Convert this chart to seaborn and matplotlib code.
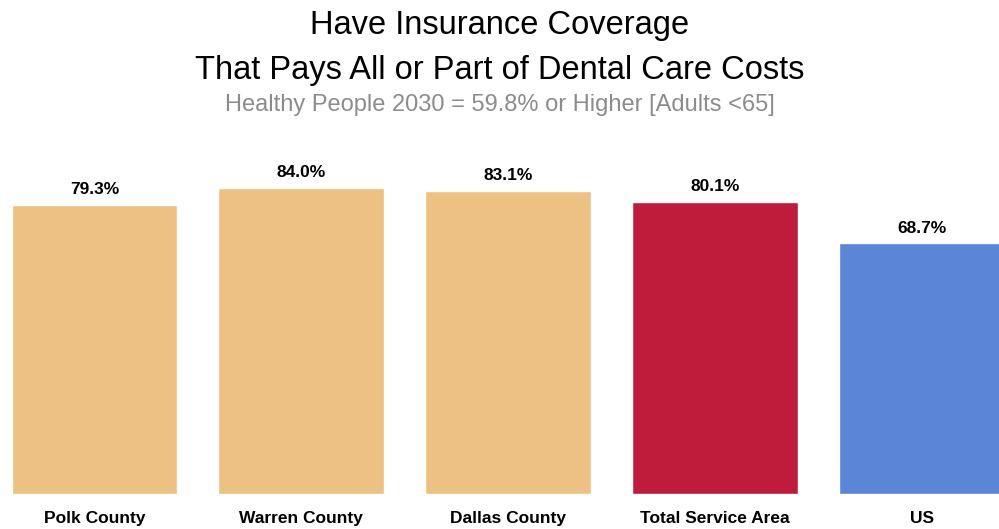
import matplotlib
matplotlib.use("Agg")
import pandas as pd
import matplotlib.pyplot as plt
import seaborn as sns

# data
categories = ["Polk County", "Warren County", "Dallas County", "Total Service Area", "US"]
values = [79.3, 84.0, 83.1, 80.1, 68.7]
bar_colors = ["#EDC183", "#EDC183", "#EDC183", "#BE1C3A", "#5B85D6"]

df = pd.DataFrame({"area": categories, "pct": values})

sns.set_style("white")
plt.rcParams['font.family'] = ['Liberation Sans', 'DejaVu Sans']
narrow = ['Liberation Sans Narrow', 'Liberation Sans', 'DejaVu Sans']

fig = plt.figure(figsize=(9.99, 5.29), dpi=100)
ax = fig.add_axes([-0.009, 0.0662, 1.035, 0.6503])

sns.barplot(data=df, x="area", y="pct", hue="area", palette=bar_colors,
            legend=False, width=0.8, saturation=1, ax=ax)

ax.set_ylim(0, 94.3)
ax.set_xlim(-0.5, 4.5)
ax.set_xlabel("")
ax.set_ylabel("")
ax.set_yticks([])
ax.tick_params(axis="x", length=0, pad=12.5)
for lab in ax.get_xticklabels():
    lab.set_fontfamily(narrow)
    lab.set_fontweight("bold")
    lab.set_fontsize(12.5)
    lab.set_color("black")
sns.despine(ax=ax, left=True, bottom=True)

# value labels
for i, v in enumerate(values):
    ax.annotate(f"{v:.1f}%", (i, v), xytext=(0, 5.5), textcoords="offset points",
                ha="center", va="bottom", fontsize=12.5, fontweight="bold",
                family=narrow, color="black")

# titles
fig.text(0.5, 0.952, "Have Insurance Coverage", ha="center", va="center",
         fontsize=23.5, color="black")
fig.text(0.5, 0.866, "That Pays All or Part of Dental Care Costs", ha="center",
         va="center", fontsize=23.5, color="black")
fig.text(0.5, 0.801, "Healthy People 2030 = 59.8% or Higher [Adults <65]",
         ha="center", va="center", fontsize=17, color="#8C8C8C")

fig.savefig("out.png", dpi=100)
